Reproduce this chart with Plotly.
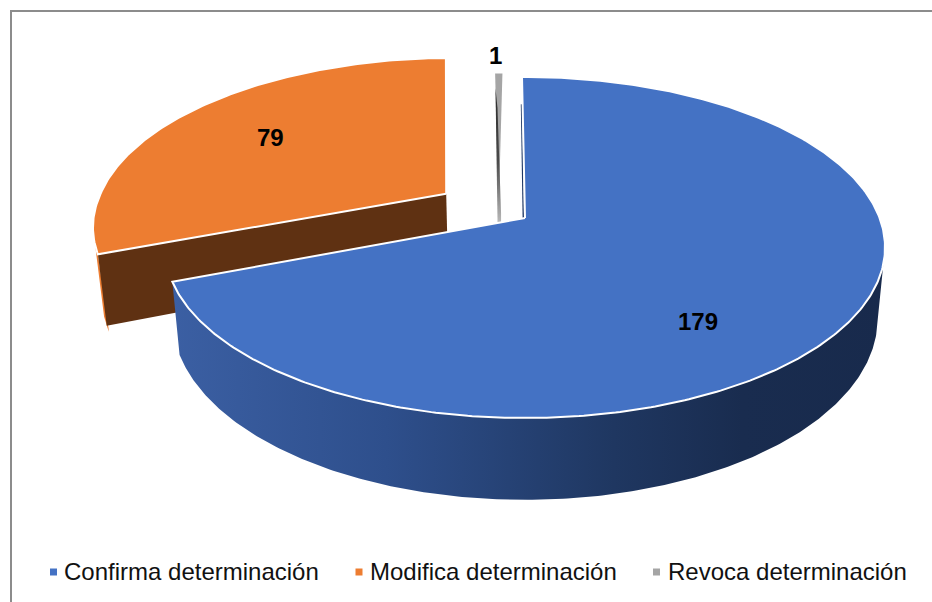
import numpy as np
import plotly.graph_objects as go

# datos del grafico
categorias = ["Confirma determinación", "Modifica determinación", "Revoca determinación"]
valores = [179, 79, 1]
colores = ["#4472C4", "#ED7D31", "#A5A5A5"]
etiquetas = ["179", "79", "1"]

# geometria del pastel 3D (perspectiva calibrada sobre la imagen)
CX = 525
K = 0.173
TOP = dict(cy=218, rx=354.6, ry=165.4)
BOT = dict(cy=287, rx=347.3, ry=176.0)
# desplazamiento de cada porcion (en radios del disco)
despl = [(0, 0), (-0.228, 0.15), (-0.075, 0.03)]


def proyectar(dx, dy, disco):
    den = 1 + K * dy
    return CX + disco["rx"] * dx / den, disco["cy"] - disco["ry"] * dy / den


def arco(a0, a1, off, disco, n=160):
    t = np.radians(np.linspace(a0, a1, n))
    return proyectar(off[0] + np.sin(t), off[1] + np.cos(t), disco)


total = sum(valores)
cortes = np.concatenate([[0], np.cumsum(valores) / total * 360])

fig = go.Figure()


def poligono(x, y, color=None, linea=None, ancho=0, grad=None):
    x = list(x) + [x[0]]
    y = list(y) + [y[0]]
    d = dict(x=x, y=y, mode="lines", fill="toself", hoverinfo="skip", showlegend=False,
             line=dict(color=linea or "rgba(0,0,0,0)", width=ancho))
    if grad:
        d["fillgradient"] = grad
    else:
        d["fillcolor"] = color
    fig.add_trace(go.Scatter(**d))


# ---------------- Modifica: cara de corte y tapa
a0, a1 = cortes[1], cortes[2]
off = despl[1]
xt, yt = proyectar(off[0] + np.sin(np.radians(a0)), off[1] + np.cos(np.radians(a0)), TOP)
xb, yb = proyectar(off[0] + np.sin(np.radians(a0)), off[1] + np.cos(np.radians(a0)), BOT)
ax, ay = proyectar(off[0], off[1], TOP)
bx, by = proyectar(off[0], off[1], BOT)
# pared exterior fina a la izquierda de la cara
xo, yo = arco(a0 - 2, a0 + 3, off, BOT, 12)
xp, yp = arco(a0, a0 + 3, off, TOP, 8)
poligono(list(xp) + list(xo[::-1]), list(yp) + list(yo[::-1]), color="#ED7D31")
poligono([ax, xt, xb, bx], [ay, yt, yb, by], color="#5F3112")
x, y = arco(a0, a1, off, TOP)
# el borde recto derecho queda vertical en la imagen de referencia
frac = np.clip((ay - y) / (ay - y.min()), 0, 1)
x = x - 4.5 * frac
y = y - 1.5 * frac
poligono([ax] + list(x), [ay] + list(y), color=colores[1], linea="#FFFFFF", ancho=2)

# ---------------- Revoca: tapa y sombra
a0, a1 = cortes[2], cortes[3]
off = despl[2]
r = np.radians(a0)
ax, ay = proyectar(off[0], off[1], TOP)
x, y = arco(a0, a1, off, TOP, 6)
poligono([ax] + list(x), [ay] + list(y), color=colores[2])
xr, yr = proyectar(off[0] + 0.88 * np.sin(r), off[1] + 0.88 * np.cos(r), TOP)
poligono([xr, xr + 2, ax + 2.5, ax + 2.5, ax - 1],
         [yr, yr + 20, ay, ay + 9, ay + 9],
         grad=dict(type="vertical", colorscale=[[0, "#B8B8B8"], [0.45, "#4A4A4A"], [1, "#2A2A2A"]]))

# ---------------- Confirma: pared con degradado, linea de corte y tapa
a0, a1 = cortes[0], cortes[1]
off = despl[0]
x1, y1 = arco(100, a1, off, TOP, 240)
x2, y2 = arco(105, a1, off, BOT, 240)
poligono(list(x1) + list(x2[::-1]), list(y1) + list(y2[::-1]),
         grad=dict(type="horizontal", colorscale=[[0, "#3B5FA3"], [0.3, "#2E4F8C"], [0.62, "#1F3761"],
                                                   [0.8, "#192C4F"], [1, "#182A4C"]]))
ax, ay = proyectar(0, 0, TOP)
xr, yr = proyectar(0, 0.78, TOP)
fig.add_trace(go.Scatter(x=[xr - 3.5, ax - 1.7], y=[yr, ay], mode="lines", hoverinfo="skip", showlegend=False,
                         line=dict(color="#1F3864", width=1.4)))
x, y = arco(a0, a1, off, TOP, 400)
x[0] -= 3
poligono([ax] + list(x), [ay] + list(y), color=colores[0], linea="#FFFFFF", ancho=2)

# ---------------- Leyenda
ley_x = [53.5, 359, 656.5]
ley_txt = [62, 368, 666]
fig.add_trace(go.Scatter(x=ley_x, y=[572] * 3, mode="markers", hoverinfo="skip", showlegend=False,
                         marker=dict(symbol="square", size=7, color=colores)))
for xl, cat in zip(ley_txt, categorias):
    fig.add_annotation(x=xl, y=571.5, text=cat, showarrow=False, xanchor="left", yanchor="middle",
                       font=dict(family="Liberation Sans", size=24, color="#111111"))

# ---------------- Etiquetas de datos
for (xl, yl), txt in zip([(698, 321), (270, 137), (495, 55)], etiquetas):
    fig.add_annotation(x=xl, y=yl, text="<b>%s</b>" % txt, showarrow=False,
                       font=dict(family="Liberation Sans", size=24, color="#000000"))

# marco del grafico
fig.add_shape(type="rect", x0=11, y0=11, x1=960, y1=640, line=dict(color="#8C8C8C", width=2), layer="below")

fig.update_xaxes(range=[0, 932], visible=False)
fig.update_yaxes(range=[602, 0], visible=False)
fig.update_layout(width=932, height=602, margin=dict(l=0, r=0, t=0, b=0),
                  paper_bgcolor="white", plot_bgcolor="white", showlegend=False)

# sin margen del body para que la figura ocupe toda la ventana
fig.write_html("out.html", config={"displayModeBar": False}, post_script="document.body.style.margin='0';")
